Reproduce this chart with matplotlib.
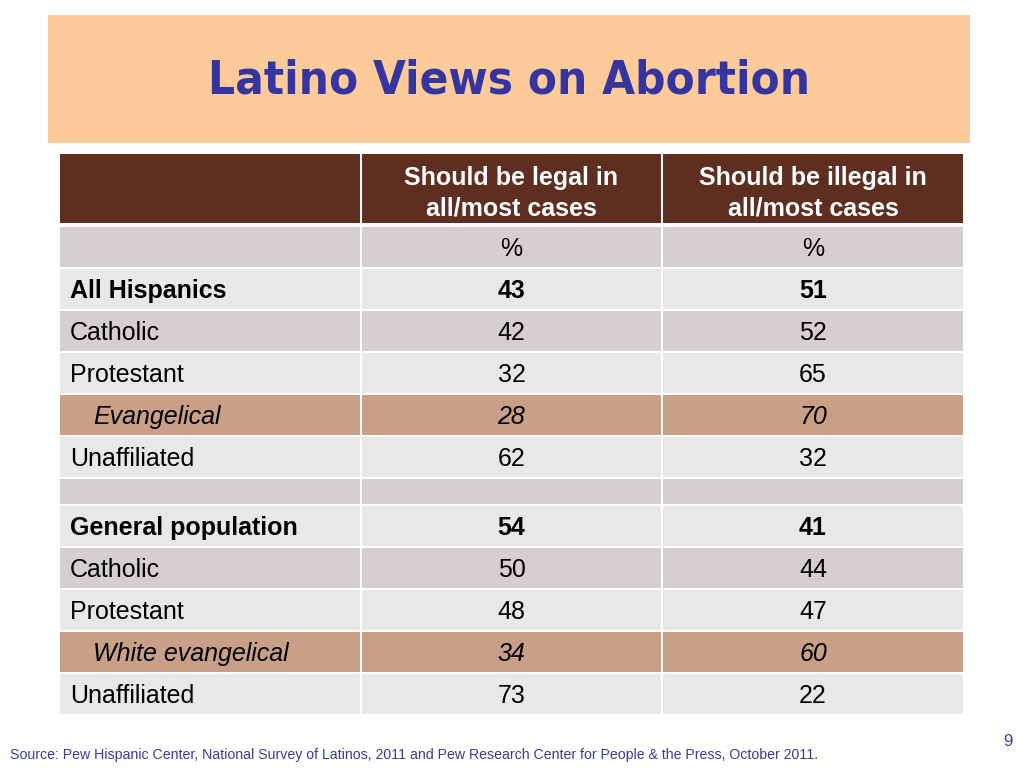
import matplotlib
matplotlib.use("Agg")
import matplotlib.pyplot as plt
from matplotlib.patches import Rectangle

# Table content
title = "Latino Views on Abortion"
col_headers = ["Should be legal in\nall/most cases", "Should be illegal in\nall/most cases"]
unit_row = ["%", "%"]
groups = ["All Hispanics", "Catholic", "Protestant", "Evangelical", "Unaffiliated", "",
          "General population", "Catholic", "Protestant", "White evangelical", "Unaffiliated"]
legal = [43, 42, 32, 28, 62, None, 54, 50, 48, 34, 73]
illegal = [51, 52, 65, 70, 32, None, 41, 44, 47, 60, 22]
row_kind = ["total", "plain", "plain", "sub", "plain", "gap",
            "total", "plain", "plain", "sub", "plain"]
source = ("Source: Pew Hispanic Center, National Survey of Latinos, 2011 and Pew Research "
          "Center for People & the Press, October 2011.")
page_no = "9"

# Colours
PEACH = "#FDCA9A"
TITLE_BLUE = "#3535A0"
HEADER_BROWN = "#5E2F21"
GREY = "#D3D0CF"
LIGHT = "#E9E7E7"
TAN = "#C9A087"

fig = plt.figure(figsize=(10.24, 7.68), dpi=100)
ax = fig.add_axes([0, 0, 1, 1])
ax.set_xlim(0, 1024)
ax.set_ylim(768, 0)
ax.axis("off")

# title band
ax.add_patch(Rectangle((48, 15), 922, 128, color=PEACH, lw=0))
ax.text(509, 81, title, ha="center", va="center", fontsize=34, fontweight="bold",
        color=TITLE_BLUE, family="DejaVu Sans", stretch="condensed")

# column geometry
col_x = [60, 362, 663]
col_w = [300, 299, 300]
gap = 2
body_font = "Liberation Sans"
fs = 18


def draw_row(top, h, color):
    for x, w in zip(col_x, col_w):
        ax.add_patch(Rectangle((x, top), w, h, color=color, lw=0))


# header row
draw_row(154, 69, HEADER_BROWN)
for i, txt in enumerate(col_headers):
    ax.text(col_x[i + 1] + col_w[i + 1] / 2, 193, txt, ha="center", va="center",
            fontsize=fs, fontweight="bold", color="white", family=body_font,
            linespacing=1.35)

# unit row
top = 227
row_h = 40
draw_row(top, row_h, GREY)
for i, txt in enumerate(unit_row):
    ax.text(col_x[i + 1] + col_w[i + 1] / 2, top + row_h / 2 + 2, txt, ha="center",
            va="center", fontsize=fs, color="black", family=body_font)
top += row_h + gap

stripe = 0
for name, a, b, kind in zip(groups, legal, illegal, row_kind):
    if kind == "gap":
        draw_row(top, 25, GREY)
        top += 25 + gap
        stripe = 0
        continue
    if kind == "sub":
        color = TAN
    else:
        color = LIGHT if stripe % 2 == 0 else GREY
    draw_row(top, row_h, color)
    weight = "bold" if kind == "total" else "normal"
    style = "italic" if kind == "sub" else "normal"
    x0 = 93 if kind == "sub" else 70
    cy = top + row_h / 2 + 2
    ax.text(x0, cy, name, ha="left", va="center", fontsize=fs, fontweight=weight,
            fontstyle=style, color="black", family=body_font)
    for i, v in enumerate([a, b]):
        ax.text(col_x[i + 1] + col_w[i + 1] / 2, cy, str(v), ha="center", va="center",
                fontsize=fs, fontweight=weight, fontstyle=style, color="black",
                family=body_font)
    stripe += 1
    top += row_h + gap

# footer
ax.text(10, 755, source, ha="left", va="center", fontsize=10.2, color="#3A3A9E",
        family=body_font)
ax.text(1008, 742, page_no, ha="center", va="center", fontsize=12, color="#3A3A9E",
        family=body_font)

fig.savefig("out.png", dpi=100, facecolor="white")
